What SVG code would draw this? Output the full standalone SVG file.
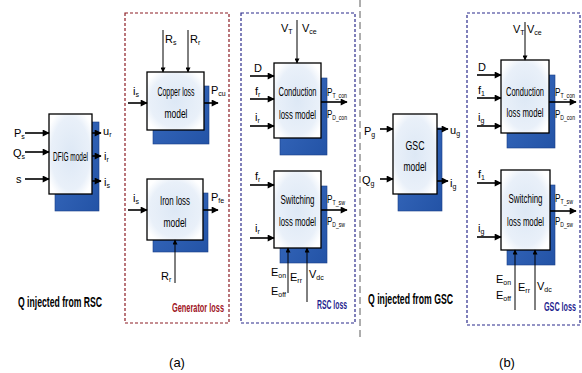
<svg xmlns="http://www.w3.org/2000/svg" width="582" height="373" viewBox="0 0 582 373">
<defs>
<style>
.t{font-family:"Liberation Sans",Arial,sans-serif;fill:#000}
.bx{font-size:13.5px}
.lb{font-size:11px}
.s{font-size:7px}
.b{font-weight:bold}
.box{fill:url(#bf);stroke:#000;stroke-width:1.3}
.sh{fill:url(#sf);stroke:#1a3f86;stroke-width:0.6}
.ar{stroke:#000;stroke-width:1.6;fill:none;marker-end:url(#ah)}
.ar1{stroke:#000;stroke-width:1;fill:none;marker-end:url(#ah2)}
</style>
<radialGradient id="bf" cx="0.5" cy="0.5" r="0.6">
<stop offset="0" stop-color="#dde8f5"/>
<stop offset="0.75" stop-color="#e9f0f9"/>
<stop offset="1" stop-color="#ffffff"/>
</radialGradient>
<linearGradient id="sf" x1="0" y1="0" x2="1" y2="1">
<stop offset="0" stop-color="#3a6cc0"/>
<stop offset="1" stop-color="#2353a6"/>
</linearGradient>
<marker id="ah" viewBox="0 0 10 10" refX="9" refY="5" markerWidth="8" markerHeight="7" markerUnits="userSpaceOnUse" orient="auto"><path d="M0,0 L10,5 L0,10 z" fill="#000"/></marker>
<marker id="ah2" viewBox="0 0 10 10" refX="9" refY="5" markerWidth="6" markerHeight="5" markerUnits="userSpaceOnUse" orient="auto"><path d="M0,0 L10,5 L0,10 z" fill="#000"/></marker>
</defs>
<rect width="582" height="373" fill="#fff"/>

<g id="frames" fill="none">
<rect x="125" y="13" width="104" height="310" stroke="#8b1c24" stroke-width="1.2" stroke-dasharray="3,2"/>
<rect x="241" y="13" width="114" height="310" stroke="#2b2b8c" stroke-width="1.2" stroke-dasharray="3,2"/>
<rect x="467" y="13" width="113" height="312" stroke="#2b2b8c" stroke-width="1.2" stroke-dasharray="3,2"/>
<line x1="360" y1="0" x2="360" y2="337" stroke="#777" stroke-width="1.2" stroke-dasharray="7,4"/>
</g>

<g id="dfig">
<rect class="sh" x="55" y="122" width="44" height="89"/>
<rect class="box" x="49" y="114" width="43" height="80"/>
<text class="t" x="70.5" y="161" text-anchor="middle" textLength="35" lengthAdjust="spacingAndGlyphs" font-size="12">DFIG model</text>
</g>
<g id="copper">
<rect class="sh" x="153" y="86" width="56" height="58"/>
<rect class="box" x="147" y="72" width="57" height="58"/>
<text class="t bx" x="176" y="96" text-anchor="middle" textLength="37" lengthAdjust="spacingAndGlyphs">Copper loss</text>
<text class="t bx" x="176" y="118" text-anchor="middle" textLength="23" lengthAdjust="spacingAndGlyphs">model</text>
</g>
<g id="iron">
<rect class="sh" x="153" y="193" width="55" height="59"/>
<rect class="box" x="147" y="179" width="56" height="61"/>
<text class="t bx" x="175" y="205" text-anchor="middle" textLength="30" lengthAdjust="spacingAndGlyphs">Iron loss</text>
<text class="t bx" x="175" y="227" text-anchor="middle" textLength="23" lengthAdjust="spacingAndGlyphs">model</text>
</g>
<g id="rsc-cond">
<rect class="sh" x="280" y="78" width="47" height="77"/>
<rect class="box" x="274" y="63" width="47" height="75"/>
<text class="t bx" x="297.5" y="96" text-anchor="middle" textLength="38" lengthAdjust="spacingAndGlyphs">Conduction</text>
<text class="t bx" x="297.5" y="119" text-anchor="middle" textLength="37" lengthAdjust="spacingAndGlyphs">loss model</text>
</g>
<g id="rsc-sw">
<rect class="sh" x="280" y="186" width="47" height="77"/>
<rect class="box" x="274" y="171" width="47" height="77"/>
<text class="t bx" x="297.5" y="204" text-anchor="middle" textLength="34" lengthAdjust="spacingAndGlyphs">Switching</text>
<text class="t bx" x="297.5" y="226" text-anchor="middle" textLength="37" lengthAdjust="spacingAndGlyphs">loss model</text>
</g>
<g id="gsc">
<rect class="sh" x="398" y="128" width="44" height="83"/>
<rect class="box" x="393" y="114" width="44" height="80"/>
<text class="t bx" x="415" y="150" text-anchor="middle" textLength="19" lengthAdjust="spacingAndGlyphs">GSC</text>
<text class="t bx" x="415" y="171" text-anchor="middle" textLength="23" lengthAdjust="spacingAndGlyphs">model</text>
</g>
<g id="gsc-cond">
<rect class="sh" x="507" y="75" width="48" height="73"/>
<rect class="box" x="501" y="60" width="48" height="73"/>
<text class="t bx" x="525" y="96" text-anchor="middle" textLength="38" lengthAdjust="spacingAndGlyphs">Conduction</text>
<text class="t bx" x="525" y="117" text-anchor="middle" textLength="37" lengthAdjust="spacingAndGlyphs">loss model</text>
</g>
<g id="gsc-sw">
<rect class="sh" x="507" y="185" width="48" height="80"/>
<rect class="box" x="501" y="170" width="49" height="80"/>
<text class="t bx" x="525.5" y="203" text-anchor="middle" textLength="34" lengthAdjust="spacingAndGlyphs">Switching</text>
<text class="t bx" x="525.5" y="226" text-anchor="middle" textLength="37" lengthAdjust="spacingAndGlyphs">loss model</text>
</g>

<g id="connectors">
<line class="ar" x1="25" y1="133" x2="49" y2="133"/>
<line class="ar" x1="25" y1="152" x2="49" y2="152"/>
<line class="ar" x1="25" y1="179" x2="49" y2="179"/>
<line class="ar" x1="92" y1="133" x2="101" y2="133"/>
<line class="ar" x1="92" y1="156" x2="101" y2="156"/>
<line class="ar" x1="92" y1="181" x2="101" y2="181"/>
<line class="ar1" x1="163" y1="30" x2="163" y2="72"/>
<line class="ar1" x1="188" y1="30" x2="188" y2="72"/>
<line class="ar" x1="128" y1="103" x2="147" y2="103"/>
<line class="ar" x1="204" y1="103" x2="218" y2="103"/>
<line class="ar" x1="128" y1="210" x2="147" y2="210"/>
<line class="ar" x1="203" y1="210" x2="218" y2="210"/>
<line class="ar1" x1="175" y1="283" x2="175" y2="240"/>
<line class="ar1" x1="297" y1="20" x2="297" y2="63"/>
<line class="ar" x1="250" y1="76" x2="274" y2="76"/>
<line class="ar" x1="250" y1="99" x2="274" y2="99"/>
<line class="ar" x1="250" y1="126" x2="274" y2="126"/>
<line class="ar" x1="321" y1="102" x2="347" y2="102"/>
<line class="ar" x1="250" y1="185" x2="274" y2="185"/>
<line class="ar" x1="250" y1="238" x2="274" y2="238"/>
<line class="ar" x1="321" y1="210" x2="347" y2="210"/>
<line class="ar1" x1="288" y1="293" x2="288" y2="248"/>
<line class="ar1" x1="307" y1="302" x2="307" y2="248"/>
<line class="ar" x1="380" y1="129" x2="393" y2="129"/>
<line class="ar" x1="380" y1="179" x2="393" y2="179"/>
<line class="ar" x1="437" y1="129" x2="448" y2="129"/>
<line class="ar" x1="437" y1="181" x2="448" y2="181"/>
<line class="ar1" x1="525" y1="22" x2="525" y2="60"/>
<line class="ar" x1="477" y1="75" x2="501" y2="75"/>
<line class="ar" x1="477" y1="98" x2="501" y2="98"/>
<line class="ar" x1="477" y1="126" x2="501" y2="126"/>
<line class="ar" x1="549" y1="102" x2="576" y2="102"/>
<line class="ar" x1="477" y1="183" x2="501" y2="183"/>
<line class="ar" x1="477" y1="237" x2="501" y2="237"/>
<line class="ar" x1="550" y1="211" x2="576" y2="211"/>
<line class="ar1" x1="515" y1="310" x2="515" y2="250"/>
<line class="ar1" x1="535" y1="310" x2="535" y2="250"/>
</g>

<g id="labels" class="t lb">
<text x="14" y="137">P<tspan class="s" dy="2">s</tspan></text>
<text x="13" y="157">Q<tspan class="s" dy="2">s</tspan></text>
<text x="16" y="183">s</text>
<text x="103" y="135">u<tspan class="s" dy="2">r</tspan></text>
<text x="104" y="160">i<tspan class="s" dy="2">r</tspan></text>
<text x="104" y="186">i<tspan class="s" dy="2">s</tspan></text>
<text x="165" y="43">R<tspan class="s" dy="2">s</tspan></text>
<text x="190" y="43">R<tspan class="s" dy="2">r</tspan></text>
<text x="133" y="95">i<tspan class="s" dy="2">s</tspan></text>
<text x="211" y="94">P<tspan class="s" dy="2">cu</tspan></text>
<text x="133" y="202">i<tspan class="s" dy="2">s</tspan></text>
<text x="211" y="201">P<tspan class="s" dy="2">fe</tspan></text>
<text x="161" y="280">R<tspan class="s" dy="2">r</tspan></text>
<text x="281" y="32">V<tspan class="s" dy="2">T</tspan></text>
<text x="302" y="32">V<tspan class="s" dy="2">ce</tspan></text>
<text x="254" y="72">D</text>
<text x="255" y="95">f<tspan class="s" dy="2">r</tspan></text>
<text x="255" y="121">i<tspan class="s" dy="2">r</tspan></text>
<text x="327" y="96" textLength="20" lengthAdjust="spacingAndGlyphs">P<tspan class="s" dy="2">T_con</tspan></text>
<text x="327" y="118" textLength="20" lengthAdjust="spacingAndGlyphs">P<tspan class="s" dy="2">D_con</tspan></text>
<text x="255" y="180">f<tspan class="s" dy="2">r</tspan></text>
<text x="255" y="232">i<tspan class="s" dy="2">r</tspan></text>
<text x="327" y="203" textLength="18" lengthAdjust="spacingAndGlyphs">P<tspan class="s" dy="2">T_sw</tspan></text>
<text x="327" y="225" textLength="18" lengthAdjust="spacingAndGlyphs">P<tspan class="s" dy="2">D_sw</tspan></text>
<text x="271" y="276">E<tspan class="s" dy="2">on</tspan></text>
<text x="271" y="295">E<tspan class="s" dy="2">off</tspan></text>
<text x="290" y="281">E<tspan class="s" dy="2">rr</tspan></text>
<text x="309" y="278">V<tspan class="s" dy="2">dc</tspan></text>
<text x="364" y="135">P<tspan class="s" dy="2">g</tspan></text>
<text x="362" y="184">Q<tspan class="s" dy="2">g</tspan></text>
<text x="450" y="134">u<tspan class="s" dy="2">g</tspan></text>
<text x="450" y="187">i<tspan class="s" dy="2">g</tspan></text>
<text x="513" y="33">V<tspan class="s" dy="2">T</tspan></text>
<text x="527" y="33">V<tspan class="s" dy="2">ce</tspan></text>
<text x="478" y="71">D</text>
<text x="478" y="94">f<tspan class="s" dy="2">1</tspan></text>
<text x="478" y="121">i<tspan class="s" dy="2">g</tspan></text>
<text x="555" y="96" textLength="20" lengthAdjust="spacingAndGlyphs">P<tspan class="s" dy="2">T_con</tspan></text>
<text x="555" y="118" textLength="20" lengthAdjust="spacingAndGlyphs">P<tspan class="s" dy="2">D_con</tspan></text>
<text x="478" y="178">f<tspan class="s" dy="2">1</tspan></text>
<text x="478" y="232">i<tspan class="s" dy="2">g</tspan></text>
<text x="555" y="202" textLength="18" lengthAdjust="spacingAndGlyphs">P<tspan class="s" dy="2">T_sw</tspan></text>
<text x="555" y="225" textLength="18" lengthAdjust="spacingAndGlyphs">P<tspan class="s" dy="2">D_sw</tspan></text>
<text x="496" y="283">E<tspan class="s" dy="2">on</tspan></text>
<text x="496" y="299">E<tspan class="s" dy="2">off</tspan></text>
<text x="518" y="291">E<tspan class="s" dy="2">rr</tspan></text>
<text x="537" y="290">V<tspan class="s" dy="2">dc</tspan></text>
</g>

<g id="captions" class="t b">
<text x="224" y="312" text-anchor="end" font-size="13" fill="#a0141e" textLength="52" lengthAdjust="spacingAndGlyphs">Generator loss</text>
<text x="347" y="309" text-anchor="end" font-size="13" fill="#1f1f8f" textLength="30" lengthAdjust="spacingAndGlyphs">RSC loss</text>
<text x="576" y="311" text-anchor="end" font-size="13" fill="#1f1f8f" textLength="32" lengthAdjust="spacingAndGlyphs">GSC loss</text>
<text x="18" y="307" font-size="14" textLength="84" lengthAdjust="spacingAndGlyphs">Q injected from RSC</text>
<text x="368" y="304" font-size="14" textLength="85" lengthAdjust="spacingAndGlyphs">Q injected from GSC</text>
</g>
<g id="sublabels" class="t">
<text x="177" y="367" text-anchor="middle" font-size="13">(a)</text>
<text x="507" y="367" text-anchor="middle" font-size="13">(b)</text>
</g>
</svg>
